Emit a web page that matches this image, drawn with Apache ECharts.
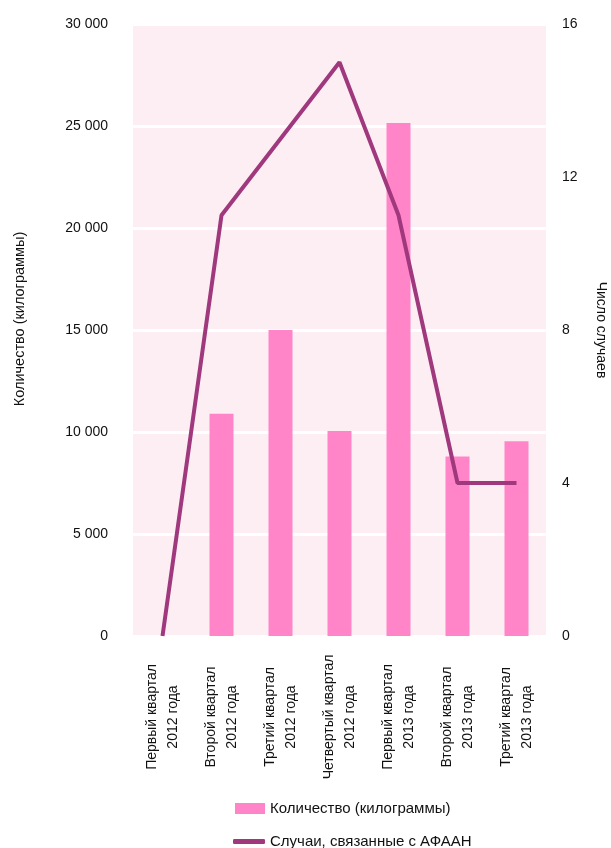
<!DOCTYPE html>
<html>
<head>
<meta charset="utf-8">
<script src="https://cdn.jsdelivr.net/npm/echarts@6/dist/echarts.min.js"></script>
<style>
  html, body { margin: 0; padding: 0; background: #ffffff; }
  #chart { width: 611px; height: 848px; }
</style>
</head>
<body>
<div id="chart"></div>
<script>
// Quarterly categories
var categories = [
  'Первый квартал\n2012 года',
  'Второй квартал\n2012 года',
  'Третий квартал\n2012 года',
  'Четвертый квартал\n2012 года',
  'Первый квартал\n2013 года',
  'Второй квартал\n2013 года',
  'Третий квартал\n2013 года'
];
// Seized quantity, kilograms (left axis)
var quantityKg = [0, 10900, 15000, 10050, 25150, 8800, 9550];
// Number of cases (right axis)
var caseCounts = [0, 11, 13, 15, 11, 4, 4];

var quantityName = 'Количество (килограммы)';
var casesName = 'Случаи, связанные с АФААН';

var FONT = '"Liberation Sans", Arial, sans-serif';
var BAR_COLOR = '#ff85c8';
var LINE_COLOR = '#a0387e';

function spaced(v) {
  return String(v).replace(/\B(?=(\d{3})+(?!\d))/g, ' ');
}

var chart = echarts.init(document.getElementById('chart'), null, { renderer: 'canvas' });

chart.setOption({
  animation: false,
  backgroundColor: '#ffffff',
  textStyle: { fontFamily: FONT },
  grid: {
    left: 133, right: 65, top: 24, bottom: 212,
    outerBoundsMode: 'none',
    containLabel: false,
    show: true, backgroundColor: '#fdeef4', borderWidth: 0
  },
  legend: [
    {
      orient: 'vertical', left: 230, top: 796,
      itemWidth: 30, itemHeight: 11,
      textStyle: { fontSize: 15, color: '#111', fontFamily: FONT },
      data: [{ name: quantityName, icon: 'rect' }]
    },
    {
      orient: 'vertical', left: 228, top: 829,
      itemWidth: 32, itemHeight: 5,
      textStyle: { fontSize: 15, color: '#111', fontFamily: FONT },
      data: [{ name: casesName, icon: 'roundRect' }]
    }
  ],
  xAxis: {
    type: 'category',
    data: categories,
    boundaryGap: true,
    axisLine: { show: false },
    axisTick: { show: false },
    axisLabel: {
      rotate: 90,
      align: 'center',
      verticalAlign: 'middle',
      margin: 81,
      interval: 0,
      fontSize: 14,
      lineHeight: 21,
      color: '#111',
      fontFamily: FONT
    }
  },
  yAxis: [
    {
      type: 'value',
      min: 0, max: 30000, interval: 5000,
      position: 'left',
      name: quantityName,
      nameLocation: 'middle',
      nameRotate: 90,
      nameGap: 106,
      nameTextStyle: {
        fontSize: 14.5, color: '#111', fontFamily: FONT,
        padding: [0, 0, 0, 22]
      },
      axisLine: { show: false },
      axisTick: { show: false },
      axisLabel: {
        margin: 25, fontSize: 14, color: '#111', fontFamily: FONT,
        formatter: function (v) { return spaced(v); }
      },
      splitLine: { show: true, lineStyle: { color: '#ffffff', width: 3 } }
    },
    {
      type: 'value',
      min: 0, max: 16, interval: 4,
      position: 'right',
      name: 'Число случаев',
      nameLocation: 'middle',
      nameRotate: -90,
      nameGap: 48,
      nameTextStyle: { fontSize: 14, color: '#111', fontFamily: FONT },
      axisLine: { show: false },
      axisTick: { show: false },
      axisLabel: { margin: 16, fontSize: 14, color: '#111', fontFamily: FONT },
      splitLine: { show: false }
    }
  ],
  series: [
    {
      name: quantityName,
      type: 'bar',
      yAxisIndex: 0,
      barWidth: 24,
      itemStyle: { color: BAR_COLOR },
      data: quantityKg
    },
    {
      name: casesName,
      type: 'line',
      yAxisIndex: 1,
      symbol: 'none',
      lineStyle: { color: LINE_COLOR, width: 4 },
      itemStyle: { color: LINE_COLOR },
      data: caseCounts
    }
  ]
});
</script>
</body>
</html>
